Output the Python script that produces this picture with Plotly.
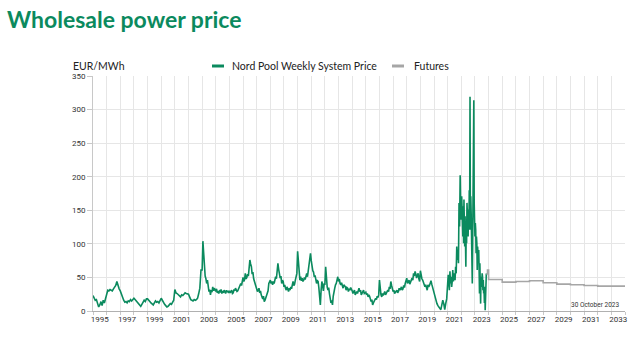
import plotly.graph_objects as go

# Nord Pool weekly system price (EUR/MWh), values read per year, evenly spaced within the year
p1995 = [23, 20, 16, 17, 11, 6, 9, 14, 8, 16, 12, 18]
p1996 = [27, 31, 30, 32, 31, 30, 33, 35, 38, 44, 36, 33]
p1997 = [30, 24, 18, 16, 13, 14, 12, 15, 14, 17, 15, 18]
p1998 = [19, 17, 15, 13, 11, 8, 7, 10, 13, 16, 14, 18]
p1999 = [18, 15, 14, 12, 10, 9, 12, 15, 13, 14, 12, 15]
p2000 = [19, 16, 12, 10, 8, 6, 7, 9, 11, 10, 14, 16]
p2001 = [32, 27, 26, 24, 22, 21, 24, 23, 25, 27, 26, 25]
p2002 = [25, 21, 17, 16, 15, 17, 16, 17, 19, 26, 34, 61]
p2003 = [61, 104, 80, 62, 52, 48, 41, 46, 34, 29, 32, 24, 31, 28, 36, 30, 34, 31]
p2004 = [29, 33, 27, 30, 26, 30, 29, 32, 26, 30, 27, 31, 29, 26, 31, 28, 30, 27]
p2005 = [30, 27, 29, 31, 26, 27, 32, 30, 34, 31, 29, 30, 33, 35, 36, 41, 38, 46]
p2006 = [50, 44, 47, 56, 48, 50, 55, 52, 62, 76, 70, 66, 55, 58, 48, 44, 40, 38]
p2007 = [36, 29, 31, 34, 27, 30, 24, 21, 18, 22, 14, 16, 19, 21, 26, 30, 41, 46]
p2008 = [46, 41, 44, 39, 44, 41, 46, 51, 48, 60, 71, 62, 56, 49, 52, 41, 46, 44]
p2009 = [36, 39, 34, 31, 36, 33, 29, 34, 31, 36, 33, 39, 44, 38, 40, 46, 50, 56]
p2010 = [89, 70, 61, 46, 51, 45, 49, 44, 46, 50, 47, 52, 56, 51, 61, 66, 80, 86]
p2011 = [75, 66, 60, 58, 51, 53, 47, 41, 45, 44, 35, 20, 9, 31, 44, 38, 30, 40]
p2012 = [40, 66, 45, 36, 31, 35, 26, 21, 12, 16, 9, 22, 26, 34, 39, 41, 46, 51]
p2013 = [44, 48, 41, 39, 42, 36, 34, 39, 37, 36, 31, 35, 34, 29, 33, 31, 35, 33]
p2014 = [30, 26, 29, 31, 24, 27, 29, 26, 31, 34, 29, 31, 24, 27, 29, 31, 26, 27]
p2015 = [28, 24, 26, 21, 24, 22, 19, 14, 17, 9, 12, 14, 16, 19, 17, 22, 20, 24]
p2016 = [46, 30, 24, 21, 26, 23, 25, 29, 24, 27, 28, 31, 29, 36, 33, 44, 38, 34]
p2017 = [29, 31, 26, 28, 29, 31, 27, 29, 34, 31, 33, 36, 31, 33, 38, 35, 41, 46]
p2018 = [49, 41, 44, 46, 40, 43, 44, 49, 46, 56, 52, 59, 55, 49, 53, 56, 48, 44]
p2019 = [60, 52, 48, 46, 43, 41, 36, 39, 34, 31, 39, 36, 38, 41, 45, 40, 36, 31]
p2020 = [24, 21, 14, 11, 8, 6, 4, 2, 9, 16, 11, 2, 11, 18]
p2021 = [41, 54, 46, 31, 59, 41, 51, 36, 44, 61, 44, 51, 56, 46, 66, 56, 96, 76,
         91, 71, 161, 126, 202, 146]
p2022 = [136, 171, 121, 146, 111, 156, 101, 166, 131, 96, 141, 121, 66, 126, 101, 161, 116, 136,
         111, 151, 121, 180, 131, 319, 121, 171, 146, 96, 121, 41, 101, 156, 181, 314, 161, 126]
p2023 = [111, 131, 121, 86, 111, 101, 61, 96, 86, 71, 91, 61, 26, 71, 46, 11, 51, 36,
         41, 56, 51, 31, 46, 26, 31, 12, 36, 1, 21, 41, 56]
points_per_year_2023 = 36  # data runs to 30 October 2023

years = list(range(1995, 2024))
yearly = [p1995, p1996, p1997, p1998, p1999, p2000, p2001, p2002, p2003, p2004,
          p2005, p2006, p2007, p2008, p2009, p2010, p2011, p2012, p2013, p2014,
          p2015, p2016, p2017, p2018, p2019, p2020, p2021, p2022, p2023]

# Futures (step line, period start -> price)
fut_start = [2023.83, 2023.92, 2024, 2025, 2026, 2027, 2028, 2029, 2030, 2031, 2032, 2033, 2034]
fut_price = [55, 61, 47, 43, 44, 45, 42, 40, 39, 38, 37, 37, 37]

tick_years = list(range(1995, 2034, 2))

spot_x, spot_y = [], []
for yr, vals in zip(years, yearly):
    n = points_per_year_2023 if yr == 2023 else len(vals)
    for i, v in enumerate(vals):
        spot_x.append(yr + i / n)
        spot_y.append(v)

GREEN = "#0b8a5e"
GREY = "#a6a6a6"
TXT = "#222222"

fig = go.Figure()
fig.add_trace(go.Scatter(x=spot_x, y=spot_y, mode="lines",
                         line=dict(color=GREEN, width=1.6),
                         name="Nord Pool Weekly System Price", showlegend=False))
fig.add_trace(go.Scatter(x=fut_start, y=fut_price, mode="lines",
                         line=dict(color=GREY, width=1.6, shape="hv"),
                         name="Futures", showlegend=False))

L, R, T, B = 93, 15, 76, 27
W, H = 640, 338
pw, ph = W - L - R, H - T - B

def px_x(p):
    return (p - L) / pw

def px_y(p):
    return (H - B - p) / ph

fig.update_layout(
    width=W, height=H,
    margin=dict(l=L, r=R, t=T, b=B),
    paper_bgcolor="white", plot_bgcolor="white",
    font=dict(family="Lato", color=TXT),
    title=dict(text="Wholesale power price", x=7 / W, xanchor="left", xref="container",
               y=1 - 20 / H, yanchor="middle", yref="container",
               font=dict(family="Lato", size=23, color=GREEN, weight="bold")),
    xaxis=dict(range=[1995, 2034], tickvals=[y + 0.5 for y in tick_years],
               ticktext=[str(y) for y in tick_years], ticks="", showgrid=False,
               tickfont=dict(family="Roboto", size=8, color="#333"),
               showline=True, linecolor="#b0b0b0", linewidth=1, zeroline=False,
               minor=dict(tick0=1995, dtick=1, showgrid=True, gridcolor="#e6e6e6",
                          gridwidth=1, ticks="outside", ticklen=3, tickcolor="#c8c8c8")),
    yaxis=dict(range=[0, 350], dtick=50, showgrid=True, gridcolor="#e6e6e6",
               ticks="outside", ticklen=5, tickcolor="#c8c8c8",
               tickfont=dict(family="Roboto", size=8, color="#333"),
               showline=True, linecolor="#c8c8c8", zeroline=False),
    showlegend=False,
)

# Axis unit label
fig.add_annotation(text="EUR/MWh", xref="paper", yref="paper", x=px_x(71), y=px_y(66),
                   xanchor="left", yanchor="middle", showarrow=False,
                   font=dict(family="Lato", size=10.5, color=TXT))
# Legend (manual)
fig.add_shape(type="line", xref="paper", yref="paper", x0=px_x(212), x1=px_x(224),
              y0=px_y(66), y1=px_y(66), line=dict(color=GREEN, width=3))
fig.add_annotation(text="Nord Pool Weekly System Price", xref="paper", yref="paper",
                   x=px_x(230), y=px_y(66), xanchor="left", yanchor="middle", showarrow=False,
                   font=dict(family="Lato", size=10.5, color=TXT))
fig.add_shape(type="line", xref="paper", yref="paper", x0=px_x(392), x1=px_x(404),
              y0=px_y(66), y1=px_y(66), line=dict(color=GREY, width=3))
fig.add_annotation(text="Futures", xref="paper", yref="paper",
                   x=px_x(412), y=px_y(66), xanchor="left", yanchor="middle", showarrow=False,
                   font=dict(family="Lato", size=10.5, color=TXT))
# Date stamp
fig.add_annotation(text="30 October 2023", xref="paper", yref="paper",
                   x=px_x(621), y=px_y(305), xanchor="right", yanchor="middle", showarrow=False,
                   font=dict(family="Roboto", size=6.5, color="#333"))

fig.write_html("out.html")
